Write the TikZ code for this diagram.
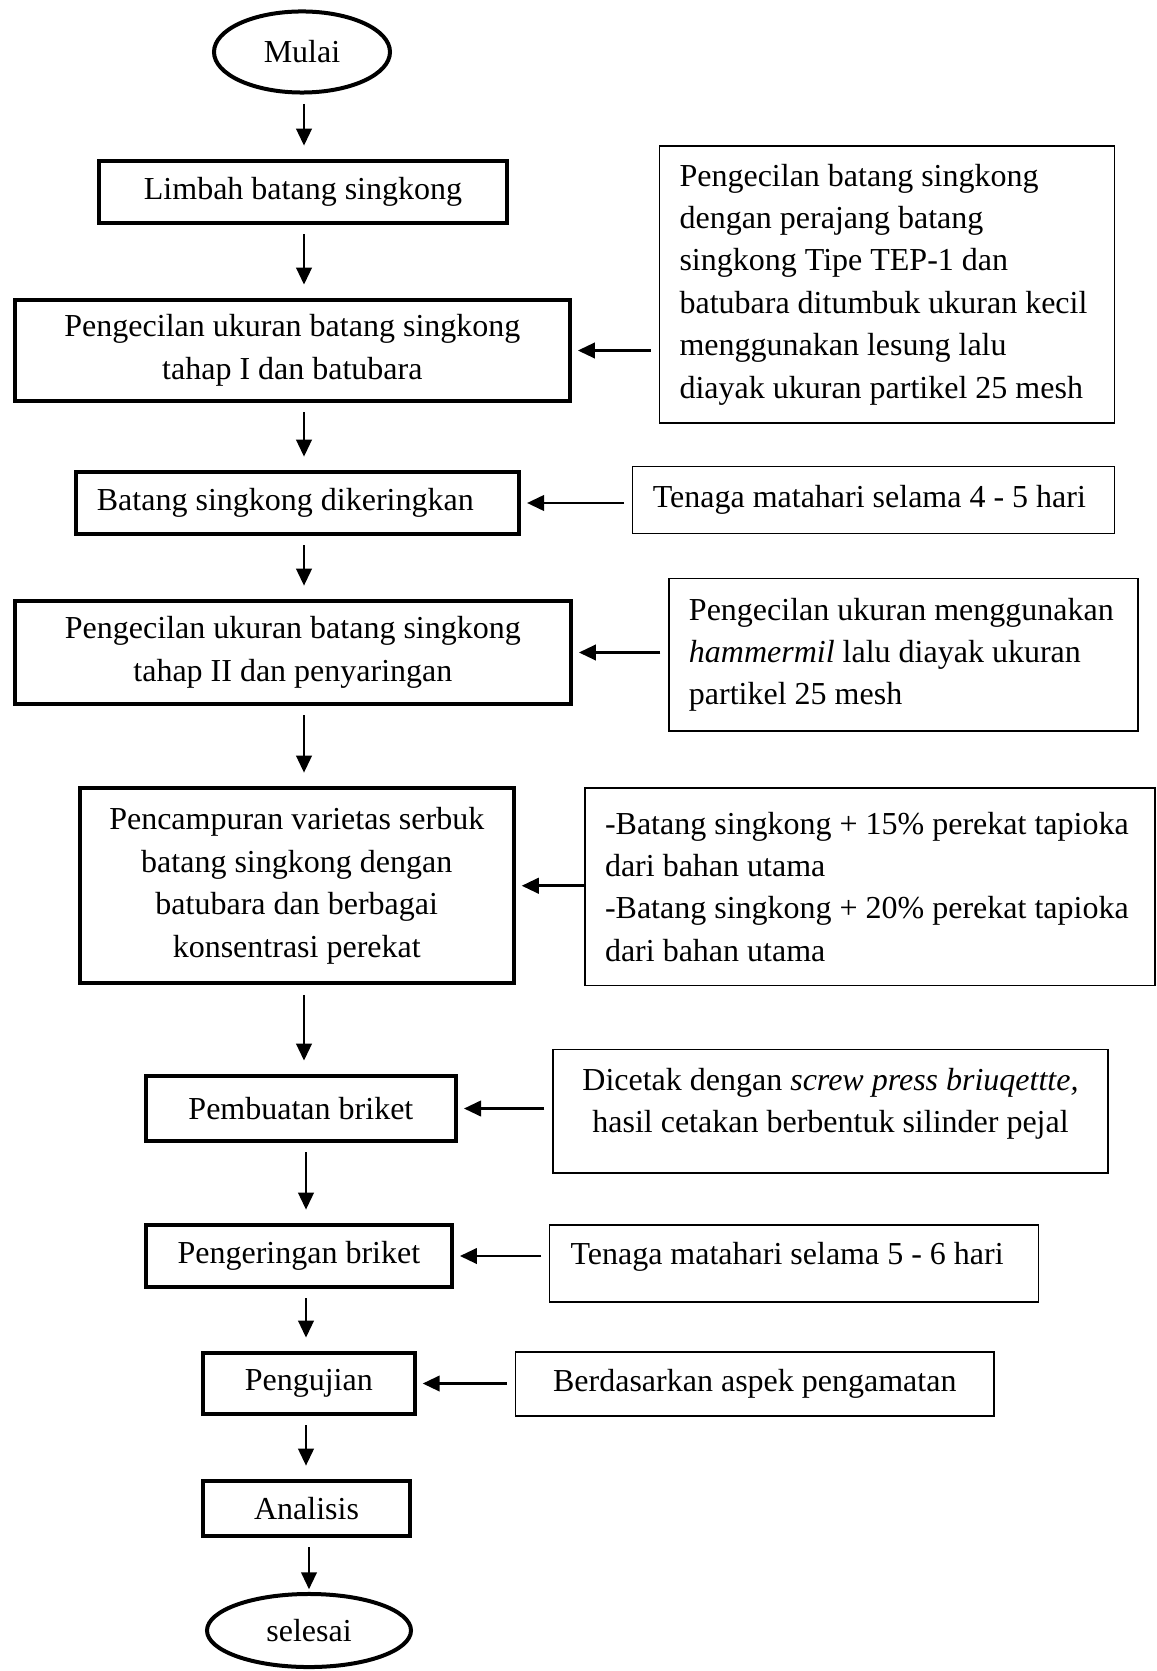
\documentclass[tikz,border=0pt]{standalone}
\usepackage{fontspec}
\setmainfont{Liberation Serif}
\usetikzlibrary{arrows.meta,shapes.geometric}

\begin{document}
\begin{tikzpicture}[
    x=0.375pt, y=-0.375pt,
    every node/.style={font=\fontsize{12}{15.9}\selectfont},
    proc/.style={draw, line width=1.5pt, align=center, inner sep=0pt},
    term/.style={draw, ellipse, line width=1.5pt, inner sep=0pt},
    note/.style={draw, line width=0.5pt, align=flush left, inner xsep=7.5pt, inner ysep=0pt},
    arr/.style={-{Triangle[length=6.4pt,width=5.8pt]}, line width=1pt, shorten <=3.5pt, shorten >=5pt},
    side/.style={arr, shorten <=3pt, shorten >=2.25pt}
]
\useasboundingbox (0,0) rectangle (1157,1671);

% main flow
\node[term, minimum width=66pt, minimum height=30.4pt] (mul) at (302,52) {Mulai};
\node[proc, minimum width=153pt, minimum height=23.25pt] (lim) at (303,192) {Limbah batang singkong};
\node[proc, minimum width=208.1pt, minimum height=37.9pt] (p1) at (292.4,350.5) {Pengecilan ukuran batang singkong\\tahap I dan batubara};
\node[proc, align=flush left, text width=150.3pt, inner xsep=8pt, minimum height=23.25pt] (ker) at (297.3,503) {Batang singkong dikeringkan};
\node[proc, minimum width=208.5pt, minimum height=38.6pt] (p2) at (292.9,652.5) {Pengecilan ukuran batang singkong\\tahap II dan penyaringan};
\node[proc, minimum width=162.7pt, minimum height=73.3pt] (cam) at (296.75,885.75) {Pencampuran varietas serbuk\\batang singkong dengan\\batubara dan berbagai\\konsentrasi perekat};
\node[proc, minimum width=116.3pt, minimum height=24.4pt] (buat) at (300.9,1108.5) {Pembuatan briket};
\node[proc, minimum width=114.8pt, minimum height=23.25pt] (ring) at (298.85,1256) {Pengeringan briket};
\node[proc, minimum width=79.4pt, minimum height=22.9pt] (uji) at (308.8,1383.5) {Pengujian};
\node[proc, minimum width=77.6pt, minimum height=20.6pt] (ana) at (306.5,1508.5) {Analisis};
\node[term, minimum width=76.5pt, minimum height=27.4pt] (sel) at (309,1630.5) {selesai};

% notes on the right
\node[note, text width=155.6pt, minimum height=103.9pt] (r1) at (887,284.5) {Pengecilan batang singkong\\dengan perajang batang\\singkong Tipe TEP-1 dan\\batubara ditumbuk ukuran kecil\\menggunakan lesung lalu\\diayak ukuran partikel 25 mesh};
\node[note, text width=165.6pt, minimum height=25.2pt] (r2) at (873.6,500.2) {Tenaga matahari selama 4 - 5 hari};
\node[note, text width=160.9pt, minimum height=57.2pt] (r3) at (903.5,654.75) {Pengecilan ukuran menggunakan\\\textit{hammermil} lalu diayak ukuran\\partikel 25 mesh};
\node[note, text width=198.75pt, minimum height=74.1pt] (r4) at (870,886.75) {-Batang singkong + 15\% perekat tapioka\\dari bahan utama\\-Batang singkong + 20\% perekat tapioka\\dari bahan utama};
\node[note, minimum width=208.1pt, minimum height=46.35pt] (r5) at (830.5,1111.2) {};
\node[align=center, inner sep=0pt] (r5t) at (830.5,1104) {Dicetak dengan \textit{screw press briuqettte,}\\hasil cetakan berbentuk silinder pejal};
\node[note, minimum width=183.4pt, minimum height=28.9pt] (r6) at (794.25,1263.5) {};
\node[anchor=west, inner sep=0pt] (r6t) at (570,1257) {Tenaga matahari selama 5 - 6 hari};
\node[note, align=center, minimum width=179.4pt, minimum height=24pt] (r7) at (754.8,1384) {Berdasarkan aspek pengamatan};

% arrows down the middle
\coordinate (sp) at (304,0);
\coordinate (spb) at (306,0);
\coordinate (spc) at (309,0);
\foreach \a/\b/\s in {mul/lim/sp, lim/p1/sp, p1/ker/sp, ker/p2/sp, p2/cam/sp, cam/buat/sp, buat/ring/spb, ring/uji/spb, uji/ana/spb}
  \draw[arr] (\a.south -| \s) -- (\b.north -| \s);
\draw[arr, shorten >=1pt] (ana.south -| spc) -- (sel.north -| spc);

% arrows from the notes
\draw[side] (r1.west |- p1.east) -- (p1.east);
\draw[side] (r2.west |- ker.east) -- (ker.east);
\draw[side] (r3.west |- p2.east) -- (p2.east);
\draw[side, shorten <=0pt] (r4.west |- cam.east) -- (cam.east);
\draw[side] (r5.west |- buat.east) -- (buat.east);
\draw[side] (r6.west |- ring.east) -- (ring.east);
\draw[side] (r7.west |- uji.east) -- (uji.east);

\end{tikzpicture}
\end{document}
